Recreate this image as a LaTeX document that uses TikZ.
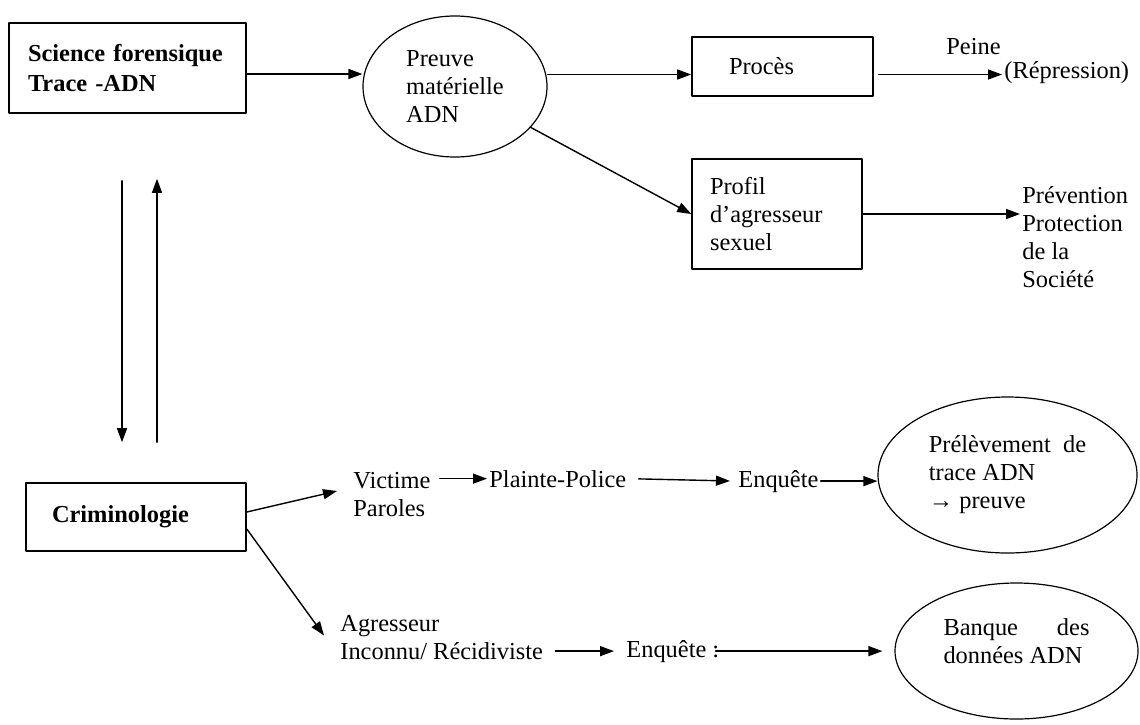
\documentclass[tikz,border=0pt]{standalone}
\usepackage{fontspec}
\setmainfont{Liberation Serif}
\usetikzlibrary{shapes.geometric,arrows.meta}
\begin{document}
\begin{tikzpicture}[x=.5pt, y=-.5pt,
  every node/.style={font=\fontsize{12.2}{14}\selectfont},
  box/.style={draw, line width=.8pt, rectangle, align=left, inner sep=0pt},
  bbox/.style={box, font=\fontsize{12.2}{15}\selectfont\bfseries},
  oval/.style={draw, line width=.6pt, ellipse, align=left, inner sep=0pt},
  txt/.style={inner sep=1pt, align=left},
  arr/.style={-{Triangle[length=7pt,width=5pt]}, line width=.7pt},
  line cap=round, line join=round]
  \useasboundingbox (0,0) rectangle (1140,724);

  % top: forensic science
  \node[bbox, minimum width=118.5pt, minimum height=45pt, text width=99.5pt] (sci) at (127.5,68) {Science forensique\\Trace -ADN};
  \node[oval, minimum width=92pt, minimum height=70.5pt] (preuve) at (455,86.5) {Preuve\\matérielle\\ADN};
  \node[box, minimum width=90.5pt, minimum height=29.5pt, text width=53.5pt] (proces) at (782.5,66.5) {Procès};
  \node[box, minimum width=85pt, minimum height=55pt, text width=67pt] (profil) at (777,214) {Profil\\d’agresseur\\sexuel};
  \node[txt, anchor=base west] (peine) at (944,54) {Peine};
  \node[txt, anchor=base west] (repr) at (1002,78) {(Répression)};
  \node[txt, anchor=west] (prev) at (1020,237) {Prévention\\Protection\\de la\\Société};

  % bottom: criminology
  \node[bbox, minimum width=110pt, minimum height=34pt, text width=84pt] (crimi) at (136,517) {Criminologie};
  \node[txt, anchor=west] (vict) at (351,495) {Victime\\Paroles};
  \node[txt, anchor=base west] (plainte) at (487,487) {Plainte-Police};
  \node[txt, anchor=base west] (enq1) at (736,487) {Enquête};
  \node[oval, minimum width=129.5pt, minimum height=78pt] (prelev) at (1007.5,475) {Prélèvement\ \ de\\trace ADN\\→ preuve};
  \node[txt, anchor=west] (agr) at (338,637.5) {Agresseur\\Inconnu/ Récidiviste};
  \node[txt, anchor=base west] (enq2) at (624,657) {Enquête :};
  \node[oval, minimum width=121.5pt, minimum height=68pt] (banque) at (1016.5,651) {};
  \node[txt] (banquetxt) at (1016.5,641) {\makebox[73pt][s]{Banque\hfill des}\\données ADN};

  % arrows
  \draw[arr] ([yshift=-3pt]sci.east) -- ([yshift=-3pt]sci.east -| preuve.west);
  \draw[arr] ([yshift=-4pt]proces.west -| preuve.east) -- ([yshift=-4pt]proces.west);
  \draw[arr] ([xshift=2.5pt,yshift=-4pt]proces.east) -- ([yshift=-4pt]proces.east -| repr.west);
  \draw[arr] (preuve) -- (profil.west);
  \draw[arr] (profil.east) -- (profil.east -| prev.west);
  \draw[arr] ([xshift=-2.75pt,yshift=-33.5pt]sci.south) -- ([xshift=-7pt,yshift=20pt]crimi.north);
  \draw[arr] ([xshift=10.5pt,yshift=20pt]crimi.north) -- ([xshift=14.75pt,yshift=-32.5pt]sci.south);
  \draw[arr] ([yshift=2.5pt]crimi.east) -- ([xshift=-7pt,yshift=2pt]vict.west);
  \draw[arr] ([xshift=3.5pt]vict.east |- plainte.west) -- (plainte.west);
  \draw[arr, shorten <=5pt, shorten >=3pt] (plainte.east) -- (enq1.west);
  \draw[arr] (enq1.east) -- (enq1.east -| prelev.west);
  \draw[arr] ([yshift=-6pt]crimi.east) -- ([xshift=-7pt,yshift=1pt]agr.west);
  \draw[arr] ([xshift=5pt]agr.east |- enq2.west) -- ([xshift=-5pt]enq2.west);
  \draw[arr] ([xshift=-3pt]enq2.east) -- ([xshift=-6pt]enq2.east -| banque.west);
\end{tikzpicture}
\end{document}
